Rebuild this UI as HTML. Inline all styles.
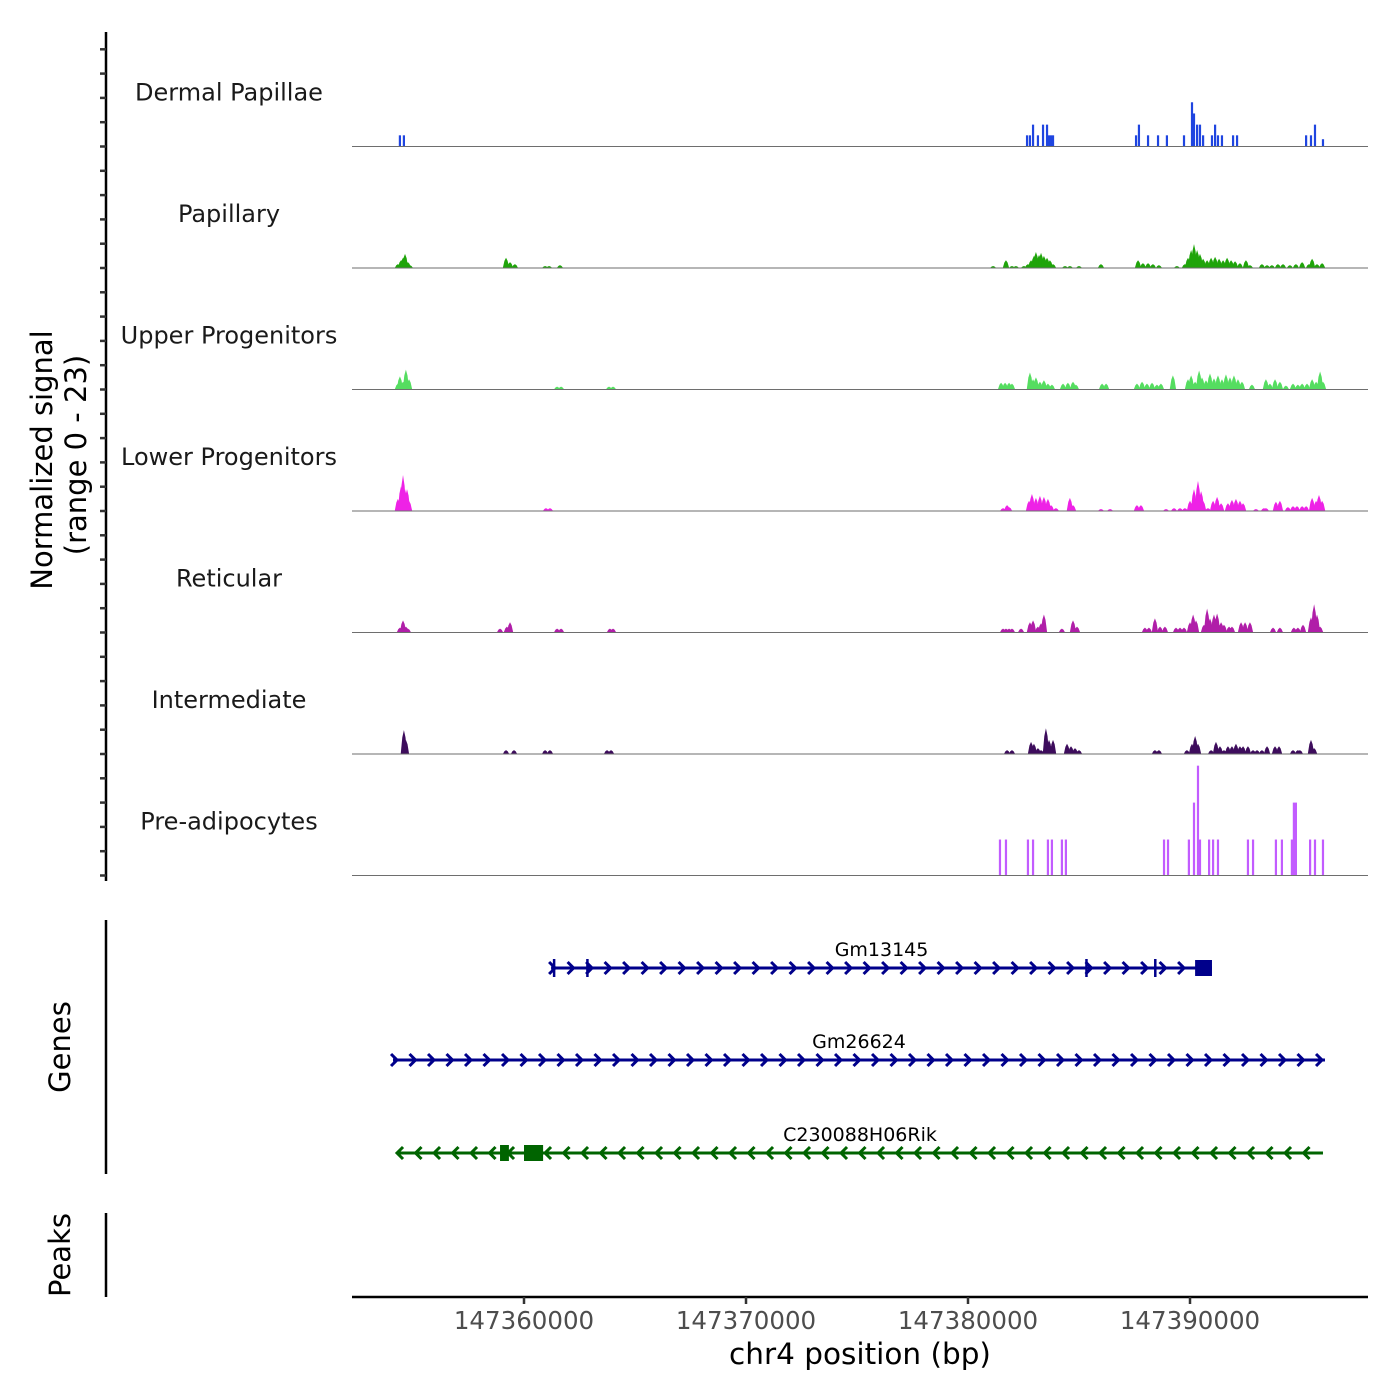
<!DOCTYPE html>
<html><head><meta charset="utf-8"><style>
html,body{margin:0;padding:0;background:#fff;}
svg{display:block;font-family:"DejaVu Sans","Liberation Sans",sans-serif;}
</style></head><body>
<svg id="chart" width="1400" height="1400" viewBox="0 0 1400 1400" xmlns="http://www.w3.org/2000/svg">
<g id="tracks"></g>
<g id="genes"></g>
<line x1="106" y1="32" x2="106" y2="881" stroke="#000" stroke-width="2.5"/>
<text transform="translate(52,460) rotate(-90)" text-anchor="middle" font-size="29">Normalized signal</text>
<text transform="translate(86,455) rotate(-90)" text-anchor="middle" font-size="29">(range 0 - 23)</text>
<line x1="106" y1="920" x2="106" y2="1174" stroke="#000" stroke-width="2.5"/>
<text transform="translate(70,1047) rotate(-90)" text-anchor="middle" font-size="29">Genes</text>
<line x1="106" y1="1213" x2="106" y2="1297" stroke="#000" stroke-width="2.5"/>
<text transform="translate(70,1255) rotate(-90)" text-anchor="middle" font-size="29">Peaks</text>
<line x1="352" y1="1297" x2="1368" y2="1297" stroke="#000" stroke-width="2.5"/>
<g id="xaxis"></g>
<text x="860" y="1364" text-anchor="middle" font-size="29.5">chr4 position (bp)</text>
</svg>
<script>
const REGION_START = 147350000; // positions below are kb offsets from here
const xTicks = [147360000, 147370000, 147380000, 147390000];
const trackNames = ["Dermal Papillae","Papillary","Upper Progenitors","Lower Progenitors","Reticular","Intermediate","Pre-adipocytes"];
const trackColors = ["#1f45e0","#1fa40a","#55dd60","#ee22e6","#b01ea8","#3d0c5c","#c25cff"];
const trackStyle = ["bar","area","area","area","area","area","bar"];

const dpPos = [4.41,4.59,32.66,32.79,32.93,33.15,33.38,33.56,33.65,33.74,33.83,37.57,37.70,38.11,38.56,38.96,39.73,40.09,40.18,40.32,40.45,40.59,40.99,41.13,41.26,41.44,41.94,42.12,45.23,45.45,45.63,45.99];
const dpVal = [2.3,2.3,2.3,2.3,4.5,2.3,4.5,4.5,2.3,2.3,2.3,2.3,4.5,2.3,2.3,2.3,2.3,9.1,6.8,4.5,4.5,2.3,2.3,4.5,2.3,2.3,2.3,2.3,2.3,2.3,4.5,1.5];

const papPos = [4.32,4.46,4.55,4.64,4.77,4.86,9.19,9.37,9.59,10.95,11.13,11.62,31.13,31.71,31.98,32.16,32.52,32.70,32.84,32.97,33.06,33.20,33.29,33.42,33.56,33.69,33.83,34.37,34.59,35.0,35.99,37.66,37.88,38.11,38.33,38.60,39.41,39.77,39.91,40.05,40.18,40.32,40.45,40.59,40.77,40.95,41.13,41.31,41.49,41.67,41.85,42.03,42.25,42.52,42.70,43.24,43.47,43.69,43.96,44.19,44.50,44.77,45.05,45.36,45.50,45.72,45.95];
const papVal = [0.8,1.6,2.1,2.9,1.2,0.6,2.1,1.2,0.8,0.4,0.4,0.6,0.4,1.6,0.4,0.4,0.4,0.8,1.6,2.5,3.3,2.7,3.1,2.5,2.1,1.6,0.8,0.4,0.4,0.4,0.8,1.6,1.0,1.0,0.8,0.6,0.4,0.8,2.1,3.7,4.9,3.7,2.9,1.9,1.6,2.1,2.3,1.9,1.6,2.1,1.6,1.4,1.0,1.6,0.6,0.8,0.6,0.6,0.8,0.8,0.6,0.8,1.2,0.8,1.9,0.8,1.0];

const upPos = [4.32,4.41,4.55,4.68,4.82,11.49,11.67,13.83,14.01,31.49,31.67,31.85,31.98,32.79,32.93,33.06,33.24,33.42,33.60,33.78,34.28,34.50,34.73,34.86,36.04,36.22,37.61,37.84,38.06,38.29,38.51,38.69,39.23,39.91,40.05,40.23,40.41,40.54,40.72,40.90,41.08,41.26,41.44,41.62,41.80,41.98,42.16,42.34,42.79,43.42,43.60,43.83,44.05,44.32,44.64,44.86,45.05,45.27,45.50,45.68,45.86,45.99];
const upVal = [1.2,2.7,1.6,4.1,2.1,0.6,0.6,0.6,0.6,1.4,1.4,1.4,1.2,3.5,2.1,2.5,1.6,1.9,1.2,1.0,1.2,1.4,1.6,1.0,1.2,1.2,1.2,1.6,1.2,1.4,1.0,1.2,2.9,2.1,2.9,1.6,3.9,2.5,1.9,3.3,2.3,2.9,2.1,3.1,2.5,2.9,2.1,1.6,1.0,2.1,1.2,2.1,1.6,0.8,1.2,1.0,1.2,1.2,2.1,1.6,3.7,1.6];

const lowPos = [4.32,4.46,4.55,4.64,4.73,4.82,10.99,11.17,31.58,31.76,31.85,32.75,32.88,33.06,33.24,33.42,33.60,33.74,33.96,34.59,34.73,35.99,36.40,37.61,37.79,38.92,39.28,39.55,39.77,40.0,40.18,40.36,40.50,40.59,40.81,41.04,41.22,41.40,41.71,41.89,42.07,42.25,42.39,42.97,43.33,43.42,43.87,44.05,44.41,44.64,44.82,45.05,45.23,45.50,45.68,45.81,45.95];
const lowVal = [2.5,5.1,7.4,4.5,4.5,2.1,0.6,0.6,0.6,1.2,0.8,2.1,3.5,2.7,3.1,2.9,2.5,1.2,0.6,2.7,1.2,0.4,0.4,1.2,1.2,0.4,0.6,0.6,0.6,2.1,4.5,6.2,4.1,2.1,0.6,2.1,2.9,1.6,1.6,2.3,2.5,2.1,1.6,0.4,0.6,0.6,1.9,2.1,0.8,1.0,1.0,1.0,1.0,2.7,2.1,3.3,2.1];

const retPos = [4.41,4.55,4.68,4.77,8.92,9.23,9.37,11.49,11.67,13.87,14.01,31.58,31.71,31.85,31.98,32.39,32.79,32.93,33.15,33.29,33.42,34.23,34.73,34.91,37.97,38.15,38.42,38.65,38.87,39.37,39.55,39.73,40.0,40.14,40.27,40.63,40.77,40.90,41.08,41.22,41.40,41.53,41.76,41.89,42.30,42.48,42.70,43.74,44.05,44.68,44.86,45.09,45.45,45.59,45.72,45.86];
const retVal = [1.0,2.5,1.2,0.8,0.8,1.2,2.1,0.8,0.8,0.8,0.8,0.8,0.8,0.8,0.8,0.8,2.1,2.5,1.2,1.9,3.7,0.8,2.5,1.2,1.0,1.0,2.9,1.2,1.2,1.0,1.0,1.0,2.1,3.7,2.5,1.6,4.9,2.9,3.7,3.9,2.1,1.6,1.2,1.2,2.1,2.1,2.1,1.0,1.0,1.0,1.0,1.6,3.1,5.8,3.7,1.2];

const intPos = [4.59,4.68,9.19,9.55,10.95,11.17,13.74,13.92,31.76,31.98,32.84,32.97,33.15,33.29,33.51,33.65,33.83,34.46,34.64,34.82,35.0,38.42,38.60,39.86,40.09,40.23,40.36,40.95,41.17,41.35,41.53,41.71,41.89,42.07,42.25,42.39,42.61,42.84,43.02,43.24,43.47,43.83,44.01,44.64,44.86,44.95,45.45,45.59];
const intVal = [4.9,2.9,0.8,0.8,0.8,0.8,0.8,0.8,0.8,0.8,2.5,2.1,1.2,0.8,5.3,2.9,2.9,2.1,1.6,1.2,0.8,0.8,0.8,0.8,2.1,3.7,2.1,0.8,2.5,1.6,0.8,1.6,1.6,2.1,1.6,1.6,1.6,0.8,0.8,0.8,1.6,1.6,1.6,0.8,0.8,0.8,2.9,1.2];

const prePos = [31.44,31.71,32.70,32.93,33.60,33.78,34.23,34.41,38.83,39.01,39.95,40.18,40.36,40.45,40.86,41.04,41.26,42.61,42.84,43.87,44.14,44.59,44.68,44.77,45.41,45.63,45.99];
const preVal = [7.4,7.4,7.4,7.4,7.4,7.4,7.4,7.4,7.4,7.4,7.4,15,22.6,7.4,7.4,7.4,7.4,7.4,7.4,7.4,7.4,7.4,15,15,7.4,7.4,7.4];

const geneNames = ["Gm13145","Gm26624","C230088H06Rik"];
const geneStart = [11.22,4.10,4.28];
const geneEnd = [40.99,46.08,45.99];
const geneStrand = ["+","+","-"];
const geneColors = ["#00008b","#00008b","#006400"];
const geneExonStart = [[11.30,12.80,35.28,38.38,40.23],[],[8.92,10.00]];
const geneExonEnd = [[11.40,12.88,35.36,38.46,40.99],[],[9.32,10.86]];

const seriesPos = [dpPos,papPos,upPos,lowPos,retPos,intPos,prePos];
const seriesVal = [dpVal,papVal,upVal,lowVal,retVal,intVal,preVal];

const NS = "http://www.w3.org/2000/svg";
const X0 = 352, X1 = 1368;
const KB0 = 2.252, KB1 = 48.018;
function xScale(kb){ return X0 + (kb - KB0) / (KB1 - KB0) * (X1 - X0); }
function xScaleBp(bp){ return xScale((bp - REGION_START) / 1000); }
const TRACK_TOP = 25, TRACK_H = 121.5, UNIT_PX = 4.86;
function baseY(i){ return TRACK_TOP + TRACK_H * (i + 1); }
function yScale(i, v){ return baseY(i) - v * UNIT_PX; }

function mk(tag, attrs, parent){
  const e = document.createElementNS(NS, tag);
  for (const k in attrs) e.setAttribute(k, attrs[k]);
  parent.appendChild(e);
  return e;
}

const tracks = document.getElementById('tracks');
const root = document.getElementById('chart');
for (let i = 0; i < 7; i++) {
  for (let t = 0; t < 5; t++) {
    const y = baseY(i) - t * 5 * UNIT_PX;
    const tk = mk('line', {x1:100, x2:106, y1:y, y2:y, stroke:'#333', 'stroke-width':2.5}, root);
    
    
  }
}
for (let i = 0; i < 7; i++) {
  const g = mk('g', {}, tracks);
  
  
  const lbl = mk('text', {x:229, y:baseY(i) - 46, 'text-anchor':'middle', 'font-size':24, fill:'#1a1a1a'}, g);
  lbl.textContent = trackNames[i];
  
  
  const pos = seriesPos[i], val = seriesVal[i], col = trackColors[i];
  for (let j = 0; j < pos.length; j++) {
    const x = xScale(pos[j]), yb = baseY(i), yt = yScale(i, val[j]);
    let m;
    if (trackStyle[i] === 'bar') {
      m = mk('rect', {x:x-1.1, y:yt, width:2.2, height:yb-yt, fill:col}, g);
    } else {
      m = mk('polygon', {points:(x-3.2)+','+yb+' '+(x-1.6)+','+(yb-(yb-yt)*0.7)+' '+x+','+yt+' '+(x+1.6)+','+(yb-(yb-yt)*0.7)+' '+(x+3.2)+','+yb, fill:col}, g);
    }
    
    
  }
  const bl = mk('line', {x1:X0, x2:X1, y1:baseY(i), y2:baseY(i), stroke:'#6e6e6e', 'stroke-width':1}, g);
  
  
}

const genes = document.getElementById('genes');
const geneY = [968, 1060, 1153];
for (let i = 0; i < geneNames.length; i++) {
  const g = mk('g', {}, genes);
  
  
  const y = geneY[i], xs = xScale(geneStart[i]), xe = xScale(geneEnd[i]), col = geneColors[i];
  const ln = mk('line', {x1:xs, x2:xe, y1:y, y2:y, stroke:col, 'stroke-width':3}, g);
  
  
  const step = 18.5;
  for (let x = xs + 2; x <= xe + 1; x += step) {
    const d = geneStrand[i] === '+' ? 'M'+(x-4)+','+(y-6)+' L'+(x+2)+','+y+' L'+(x-4)+','+(y+6)
                                    : 'M'+(x+4)+','+(y-6)+' L'+(x-2)+','+y+' L'+(x+4)+','+(y+6);
    const a = mk('path', {d:d, fill:'none', stroke:col, 'stroke-width':3}, g);
    
    
  }
  for (let k = 0; k < geneExonStart[i].length; k++) {
    const a = xScale(geneExonStart[i][k]), b = xScale(geneExonEnd[i][k]);
    const h = (b - a) > 6 ? 16 : 18;
    const r = mk('rect', {x:a, y:y-h/2, width:Math.max(b-a,2.5), height:h, fill:col}, g);
    
    
  }
  const t = mk('text', {x:(xs+xe)/2, y:y-12, 'text-anchor':'middle', 'font-size':19, fill:'#000'}, g);
  t.textContent = geneNames[i];
  
  
}

const xa = document.getElementById('xaxis');
for (let i = 0; i < xTicks.length; i++) {
  const x = xScaleBp(xTicks[i]);
  const tk = mk('line', {x1:x, x2:x, y1:1297, y2:1304, stroke:'#333', 'stroke-width':2.5}, xa);
  
  
  const tl = mk('text', {x:x, y:1329, 'text-anchor':'middle', 'font-size':24.5, fill:'#4d4d4d'}, xa);
  tl.textContent = String(xTicks[i]);
  
  
}
</script>
</body></html>
